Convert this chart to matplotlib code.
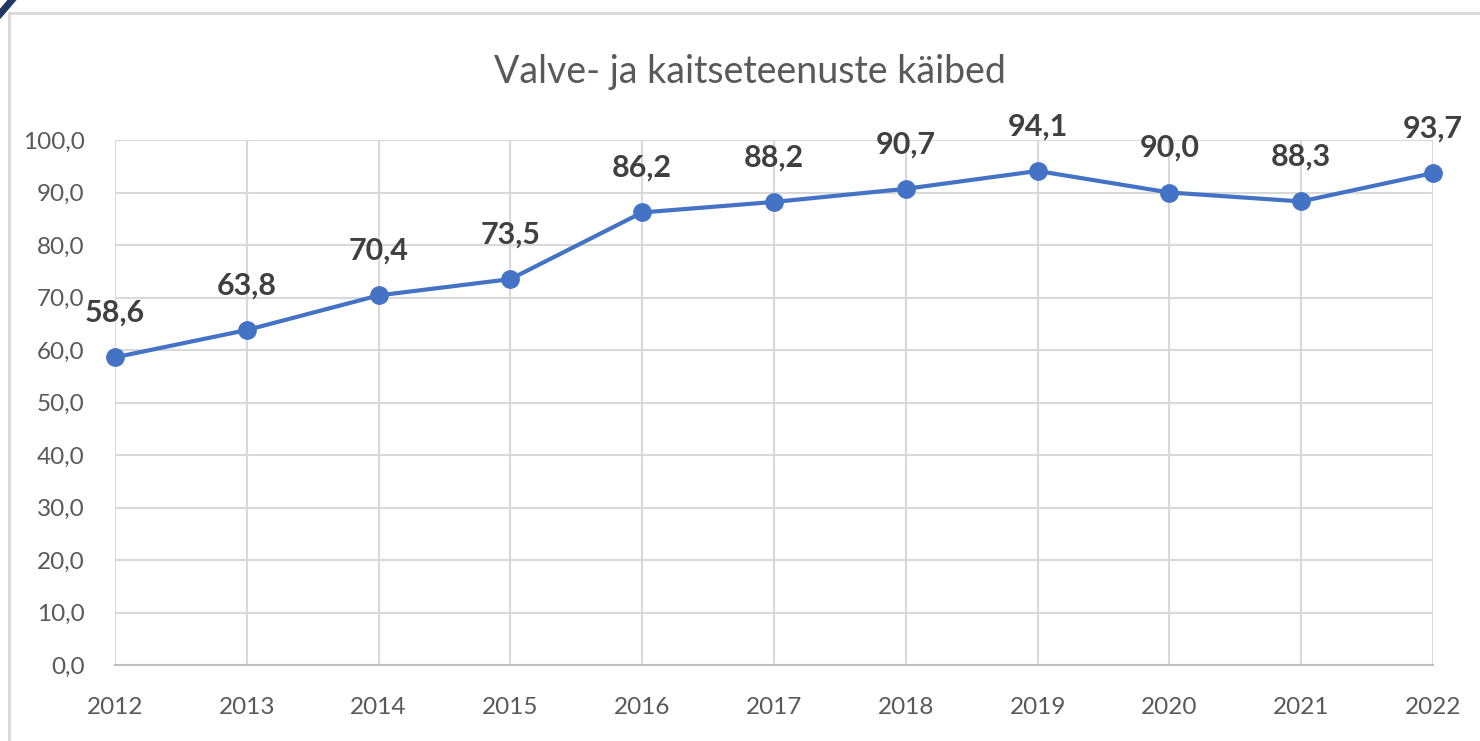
import matplotlib
matplotlib.use("Agg")
import matplotlib.pyplot as plt
from matplotlib.lines import Line2D
from matplotlib.ticker import FuncFormatter, MultipleLocator

years = [2012, 2013, 2014, 2015, 2016, 2017, 2018, 2019, 2020, 2021, 2022]
values = [58.6, 63.8, 70.4, 73.5, 86.2, 88.2, 90.7, 94.1, 90.0, 88.3, 93.7]
title = "Valve- ja kaitseteenuste käibed"

plt.rcParams['font.family'] = ['Lato', 'DejaVu Sans']

fig = plt.figure(figsize=(14.8, 7.41), dpi=100)
ax = fig.add_axes([115/1480, 1-665/741, (1433-115)/1480, (665-140)/741])

ax.plot(years, values, color='#4472C4', lw=3.0, marker='o', ms=12.5, zorder=3, clip_on=False)
for x, v in zip(years, values):
    ax.annotate(f"{v:.1f}".replace('.', ','), (x, v), xytext=(0, 32), textcoords='offset points',
                ha='center', va='center', fontsize=22, fontweight='bold', color='#404040')

ax.set_xlim(years[0], years[-1])
ax.set_ylim(0, 100)
ax.yaxis.set_major_locator(MultipleLocator(10))
ax.yaxis.set_major_formatter(FuncFormatter(lambda v, p: f"{v:.1f}".replace('.', ',')))
ax.set_xticks(years)
ax.set_xticklabels([str(y) for y in years])
ax.grid(True, color='#D9D9D9', lw=1.5)
ax.set_axisbelow(True)
for s in ['top', 'right', 'left']:
    ax.spines[s].set_visible(False)
ax.spines['bottom'].set_color('#BFBFBF')
ax.spines['bottom'].set_linewidth(1.5)
ax.tick_params(length=0, labelsize=17.5, labelcolor='#595959')
ax.tick_params(axis='y', pad=22)
ax.tick_params(axis='x', pad=23)

fig.text(750/1480, 1-72/741, title, ha='center', va='center', fontsize=27, color='#595959')

# outer frame
fig.add_artist(Line2D([9/1480, 1], [1-13/741, 1-13/741], color='#D9D9D9', lw=2))
fig.add_artist(Line2D([9/1480, 9/1480], [0, 1-13/741], color='#D9D9D9', lw=2))
fig.add_artist(Line2D([0, 12/1480], [1-14/741, 1], color='#1F3864', lw=5))

fig.savefig('out.png', dpi=100)
